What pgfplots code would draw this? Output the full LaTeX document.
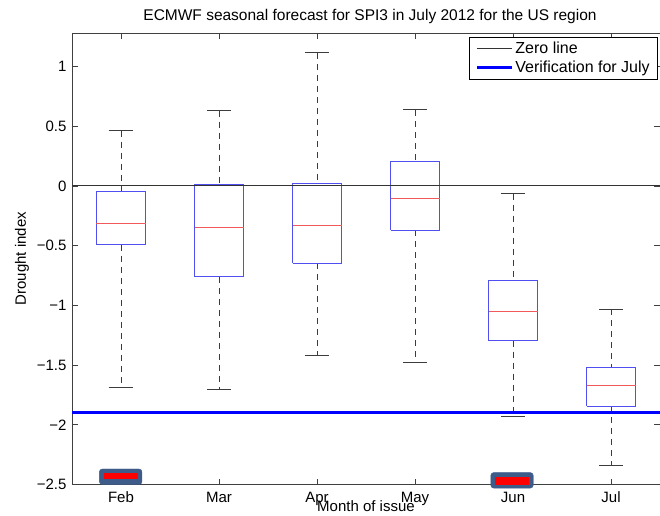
\documentclass[border=0pt]{standalone}
\usepackage{fontspec}
\setmainfont{Liberation Sans}
\usepackage{pgfplots}
\pgfplotsset{compat=1.18}

\definecolor{boxblue}{RGB}{80,80,240}
\definecolor{medred}{RGB}{240,90,90}
\definecolor{whiskgray}{RGB}{60,60,60}
\definecolor{frameblue}{RGB}{62,92,138}

% Five-number summaries of the ensemble for each month of issue
% (x = month index: 1 Feb ... 6 Jul)
%   Feb: lw -1.689  q1 -0.494  med -0.316  q3 -0.048  uw  0.463
%   Mar: lw -1.700  q1 -0.762  med -0.352  q3  0.008  uw  0.631
%   Apr: lw -1.421  q1 -0.647  med -0.332  q3  0.019  uw  1.114
%   May: lw -1.477  q1 -0.369  med -0.106  q3  0.204  uw  0.637
%   Jun: lw -1.926  q1 -1.296  med -1.053  q3 -0.790  uw -0.064
%   Jul: lw -2.338  q1 -1.843  med -1.673  q3 -1.518  uw -1.033

\begin{document}
\begin{tikzpicture}[font=\fontsize{15pt}{18pt}\selectfont]
\begin{axis}[
  scale only axis,
  width=588pt, height=451.5pt,
  xmin=0.5, xmax=6.5, ymin=-2.5, ymax=1.28,
  clip=false,
  unbounded coords=jump,
  xtick={1,2,3,4,5,6},
  xticklabels={Feb,Mar,Apr,May,Jun,Jul},
  ytick={-2.5,-2,-1.5,-1,-0.5,0,0.5,1},
  yticklabels={−2.5,−2,−1.5,−1,−0.5,0,0.5,1},
  tick align=inside,
  xtick pos=both, ytick pos=both,
  major tick length=6pt,
  every tick/.style={black!75, line width=0.7pt},
  axis line style={black!75, line width=0.8pt},
  yticklabel style={xshift=-2pt},
  xticklabel style={yshift=-4pt},
  title={ECMWF seasonal forecast for SPI3 in July 2012 for the US region},
  title style={at={(axis description cs:0.5,1.015)}, anchor=base, xshift=4pt,
    font=\fontsize{15.5pt}{18pt}\selectfont},
  xlabel={Month of issue},
  xlabel style={at={(axis description cs:0.5,-0.060)}, anchor=base, inner sep=0pt},
  every axis y label/.style={at={(axis description cs:-0.085,0.5)}, rotate=90, anchor=center},
  ylabel={Drought index},
  legend cell align=left,
  legend image code/.code={\draw[#1] (0pt,0pt) -- (35pt,0pt);},
  legend style={at={(axis description cs:1,1)}, anchor=north east,
    xshift=-2pt, yshift=-4pt, draw=black, line width=0.6pt, fill=white,
    font=\fontsize{16pt}{19pt}\selectfont,
    row sep=2pt, inner xsep=6pt, inner ysep=3pt},
]
% whisker stems (dashed), quartile to whisker end
\addplot[whiskgray, line width=0.8pt, dash pattern=on 6pt off 5pt, forget plot]
  coordinates {
  (1,0.463) (1,-0.048) (nan,nan) (1,-0.494) (1,-1.689) (nan,nan)
  (2,0.631) (2,0.008) (nan,nan) (2,-0.762) (2,-1.700) (nan,nan)
  (3,1.114) (3,0.019) (nan,nan) (3,-0.647) (3,-1.421) (nan,nan)
  (4,0.637) (4,0.204) (nan,nan) (4,-0.369) (4,-1.477) (nan,nan)
  (5,-0.064) (5,-0.790) (nan,nan) (5,-1.296) (5,-1.926) (nan,nan)
  (6,-1.033) (6,-1.518) (nan,nan) (6,-1.843) (6,-2.338)
  };
% whisker caps
\addplot[whiskgray, line width=0.8pt, forget plot]
  coordinates {
  (0.875,0.463) (1.125,0.463) (nan,nan) (0.875,-1.689) (1.125,-1.689) (nan,nan)
  (1.875,0.631) (2.125,0.631) (nan,nan) (1.875,-1.700) (2.125,-1.700) (nan,nan)
  (2.875,1.114) (3.125,1.114) (nan,nan) (2.875,-1.421) (3.125,-1.421) (nan,nan)
  (3.875,0.637) (4.125,0.637) (nan,nan) (3.875,-1.477) (4.125,-1.477) (nan,nan)
  (4.875,-0.064) (5.125,-0.064) (nan,nan) (4.875,-1.926) (5.125,-1.926) (nan,nan)
  (5.875,-1.033) (6.125,-1.033) (nan,nan) (5.875,-2.338) (6.125,-2.338)
  };
% boxes, lower to upper quartile
\addplot[boxblue, line width=0.9pt, forget plot]
  coordinates {
  (0.75,-0.494) (1.25,-0.494) (1.25,-0.048) (0.75,-0.048) (0.75,-0.494) (nan,nan)
  (1.75,-0.762) (2.25,-0.762) (2.25,0.008) (1.75,0.008) (1.75,-0.762) (nan,nan)
  (2.75,-0.647) (3.25,-0.647) (3.25,0.019) (2.75,0.019) (2.75,-0.647) (nan,nan)
  (3.75,-0.369) (4.25,-0.369) (4.25,0.204) (3.75,0.204) (3.75,-0.369) (nan,nan)
  (4.75,-1.296) (5.25,-1.296) (5.25,-0.790) (4.75,-0.790) (4.75,-1.296) (nan,nan)
  (5.75,-1.843) (6.25,-1.843) (6.25,-1.518) (5.75,-1.518) (5.75,-1.843)
  };
% medians
\addplot[medred, line width=0.9pt, forget plot]
  coordinates {
  (0.75,-0.316) (1.25,-0.316) (nan,nan)
  (1.75,-0.352) (2.25,-0.352) (nan,nan)
  (2.75,-0.332) (3.25,-0.332) (nan,nan)
  (3.75,-0.106) (4.25,-0.106) (nan,nan)
  (4.75,-1.053) (5.25,-1.053) (nan,nan)
  (5.75,-1.673) (6.25,-1.673)
  };

% reference lines
\addplot[black!80, line width=0.8pt] coordinates {(0.5,0) (6.5,0)};
\addlegendentry{Zero line}
\addplot[blue, line width=3pt] coordinates {(0.5,-1.9) (6.5,-1.9)};
\addlegendentry{Verification for July}

% highlighted months
\addplot[fill=frameblue, draw=frameblue, rounded corners=3pt, forget plot]
  coordinates {(0.779,-2.370) (1.214,-2.370) (1.214,-2.500) (0.779,-2.500)} -- cycle;
\addplot[fill=red, draw=none, forget plot]
  coordinates {(0.827,-2.403) (1.170,-2.403) (1.170,-2.454) (0.827,-2.454)} -- cycle;
\addplot[fill=frameblue, draw=frameblue, rounded corners=3pt, forget plot]
  coordinates {(4.773,-2.400) (5.207,-2.400) (5.207,-2.530) (4.773,-2.530)} -- cycle;
\addplot[fill=red, draw=none, forget plot]
  coordinates {(4.816,-2.440) (5.163,-2.440) (5.163,-2.500) (4.816,-2.500)} -- cycle;
\end{axis}
\pgfresetboundingbox
\path[use as bounding box] (-72pt,-30.5pt) rectangle (588pt,484.5pt);
\end{tikzpicture}
\end{document}
